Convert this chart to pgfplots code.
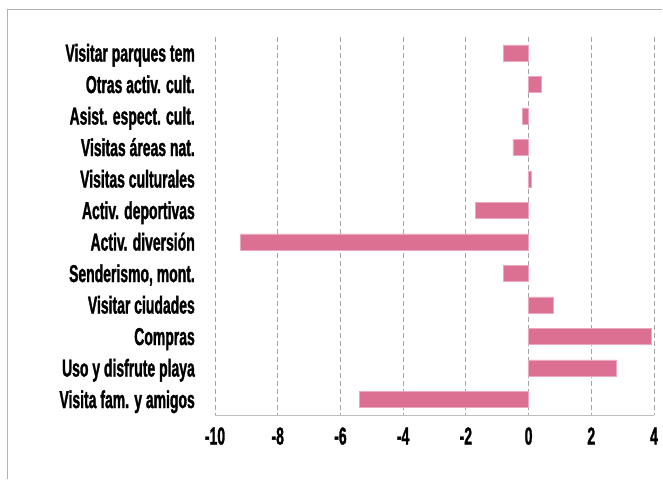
\documentclass[border=0pt]{standalone}
\usepackage{fontspec}
\usepackage{pgfplots}
\pgfplotsset{compat=1.18}
\newfontfamily\cond{Liberation Sans Bold}[FakeStretch=0.57, FakeBold=1.2]
\definecolor{barpink}{RGB}{220,112,146}
\begin{document}
\begin{tikzpicture}[x=1pt,y=1pt]
\useasboundingbox (0,0) rectangle (663,479);
\draw[black!30, line width=1pt] (7,0) -- (7,469) -- (662,469);
\begin{axis}[
  at={(215pt,64pt)}, anchor=south west,
  scale only axis, width=439pt, height=378pt,
  xmin=-10, xmax=4, ymin=-0.5, ymax=11.5,
  y dir=reverse,
  xbar, bar width=16pt, bar shift=0pt,
  xtick={-10,-8,-6,-4,-2,0,2,4},
  xticklabels={-10,-8,-6,-4,-2,0,2,4},
  ytick={0,...,11},
  yticklabels={Visitar parques tem,Otras activ. cult.,Asist. espect. cult.,Visitas áreas nat.,Visitas culturales,Activ. deportivas,Activ. diversión,{Senderismo, mont.},Visitar ciudades,Compras,Uso y disfrute playa,Visita fam. y amigos},
  major tick length=0pt,
  axis lines*=left, separate axis lines,
  y axis line style={draw=none},
  x axis line style={draw=black!25, line width=1pt, -},
  xmajorgrids,
  major grid style={black!35, dash pattern=on 5pt off 3pt, line width=1pt},
  extra x ticks={0}, extra x tick labels={},
  extra x tick style={grid style={black!65, dash pattern=on 5pt off 3pt, line width=1.2pt}},
  /pgf/number format/assume math mode=true,
  ticklabel style={font=\cond\fontsize{24.5}{26}\selectfont, inner sep=0pt},
  yticklabel style={anchor=base east, xshift=-20pt, yshift=-8.8pt},
  xticklabel style={anchor=base, yshift=-29.5pt},
]
\addplot[fill=barpink, draw=barpink!60, line width=0.5pt] coordinates {
  (-0.8,0) (0.4,1) (-0.2,2) (-0.5,3) (0.1,4) (-1.7,5)
  (-9.2,6) (-0.8,7) (0.8,8) (3.9,9) (2.8,10) (-5.4,11)
};
\end{axis}
\end{tikzpicture}
\end{document}
